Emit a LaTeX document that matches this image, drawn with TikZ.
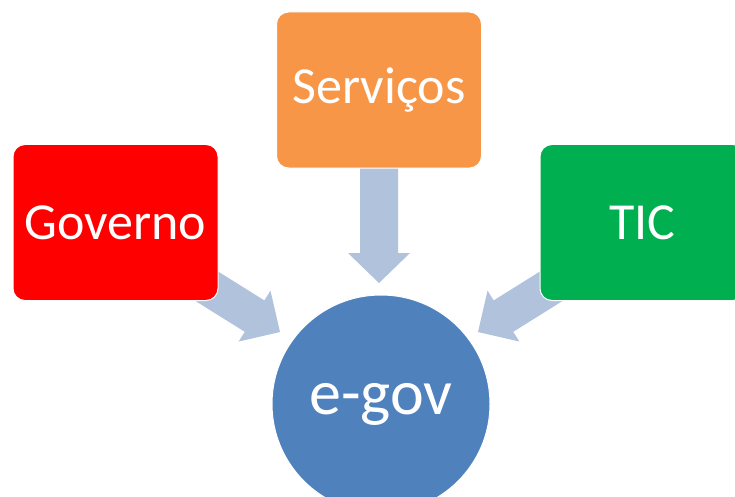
\documentclass[tikz,border=0pt]{standalone}
\usepackage{fontspec}
\setmainfont{Carlito}
\definecolor{govred}{HTML}{FF0000}
\definecolor{servorange}{HTML}{F79646}
\definecolor{ticgreen}{HTML}{00B050}
\definecolor{egovblue}{HTML}{4F81BD}
\definecolor{arrowblue}{HTML}{B1C2DD}
\begin{document}
\begin{tikzpicture}[x=1pt,y=-1pt,
  box/.style={rectangle, rounded corners=12pt, draw=white, line width=1pt,
    minimum width=205pt, minimum height=156pt, text=white, font=\fontsize{52}{62}\selectfont},
  hub/.style={circle, draw=white, line width=1pt, fill=egovblue, minimum size=218pt,
    text=white, font=\fontsize{64}{76}\selectfont},
  blockarrow/.style={fill=arrowblue}]
\useasboundingbox (0,0) rectangle (735,497);
\clip (0,0) rectangle (735,497);
\fill[white] (0,0) rectangle (735,497);
% arrow tips
\coordinate (tipL) at (280,332);
\coordinate (tipD) at (379,283);
\coordinate (tipR) at (478,332);
% block arrows (behind boxes)
\begin{scope}[shift={(tipD)}, rotate=-90]
  \fill[blockarrow] (0,0) -- (-30,31) -- (-30,19) -- (-120,19) -- (-120,-19) -- (-30,-19) -- (-30,-31) -- cycle;
\end{scope}
\begin{scope}[shift={(tipL)}, rotate=-32]
  \fill[blockarrow] (0,0) -- (-30,30) -- (-30,18.5) -- (-110,18.5) -- (-110,-18.5) -- (-30,-18.5) -- (-30,-30) -- cycle;
\end{scope}
\begin{scope}[shift={(tipR)}, rotate=212]
  \fill[blockarrow] (0,0) -- (-30,30) -- (-30,18.5) -- (-110,18.5) -- (-110,-18.5) -- (-30,-18.5) -- (-30,-30) -- cycle;
\end{scope}
% boxes
\node[box, fill=servorange] (serv) at (379,90) {Serviços};
\node[box, fill=govred] (gov) at (115.5,222.5) {Governo};
\node[box, fill=ticgreen] (tic) at (642.5,222.5) {TIC};
% hub
\node[hub] (egov) at (381,404) {e-gov};
\end{tikzpicture}
\end{document}
